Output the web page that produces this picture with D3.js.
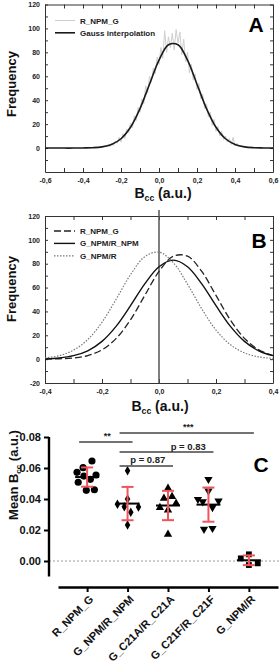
<!DOCTYPE html>
<html>
<head>
<meta charset="utf-8">
<script src="https://cdn.jsdelivr.net/npm/d3@7"></script>
<style>
  body { margin: 0; background: #fff; }
  svg { display: block; font-family: "Liberation Sans", Arial, sans-serif; font-weight: bold; }
</style>
</head>
<body>
<svg id="chart" width="280" height="664"></svg>
<script>
// ---------- panel A : histogram + gauss fit ----------
const histBins = [-0.27,-0.26,-0.25,-0.24,-0.23,-0.22,-0.21,-0.20,-0.19,-0.18,-0.17,-0.16,-0.15,-0.14,-0.13,-0.12,-0.11,-0.10,-0.09,-0.08,
                  -0.07,-0.06,-0.05,-0.04,-0.03,-0.02,-0.01,0.00,0.01,0.02,0.03,0.04,0.05,0.06,0.07,0.08,0.09,0.10,0.11,0.12,
                  0.13,0.14,0.15,0.16,0.17,0.18,0.19,0.20,0.21,0.22,0.23,0.24,0.25,0.26,0.27,0.28,0.29,0.30,0.31,0.32,
                  0.33,0.34,0.35,0.36,0.37,0.38,0.39,0.40,0.41,0.42];
const histCounts = [3,1,4,2,6,4,9,5,12,8,16,13,21,17,27,23,34,30,41,37,
                    52,46,60,55,67,62,76,70,84,75,98,80,93,84,96,82,99,88,97,78,
                    91,72,80,63,70,57,62,49,54,41,45,33,37,26,30,19,24,14,18,10,
                    14,7,10,5,8,3,9,2,4,1];
const fitXA = [-0.6,-0.55,-0.5,-0.45,-0.4,-0.35,-0.3,-0.25,-0.2,-0.15,-0.1,-0.05,0,0.05,0.1,0.15,0.2,0.25,0.3,0.35,0.4,0.45,0.5,0.55,0.6];
const fitA = [0,0,0,0,0.1,0.3,1.0,3.0,7.8,17.4,33.0,53.4,73.5,86.3,86.3,73.5,53.4,33.0,17.4,7.8,3.0,1.0,0.3,0.1,0];
const ticksXA = [-0.6,-0.5,-0.4,-0.3,-0.2,-0.1,0,0.1,0.2,0.3,0.4,0.5,0.6];
const ticksYA = [-10,0,10,20,30,40,50,60,70,80,90,100,110,120];

// ---------- panel B : three gauss fits ----------
const fitXB = [-0.4,-0.35,-0.3,-0.25,-0.2,-0.15,-0.1,-0.05,0,0.05,0.1,0.15,0.2,0.25,0.3,0.35,0.4];
const fitR_NPM_G = [0.1,0.3,1.0,3.0,7.8,17.4,33.0,53.4,73.5,86.3,86.3,73.5,53.4,33.0,17.4,7.8,3.0];
const fitG_NPM_R_NPM = [0.3,1.0,2.9,7.0,14.9,27.7,44.8,63.1,77.5,83.0,77.5,63.1,44.8,27.7,14.9,7.0,2.9];
const fitG_NPM_R = [1.0,2.9,7.5,16.4,30.9,50.4,70.8,85.9,89.7,80.9,62.9,42.2,24.4,12.2,5.2,1.9,0.6];
const ticksXB = [-0.4,-0.3,-0.2,-0.1,0,0.1,0.2,0.3,0.4];
const ticksYB = [-20,-10,0,10,20,30,40,50,60,70,80,90,100,110,120];

// ---------- panel C : mean Bcc per construct ----------
const groups = ["R_NPM_G", "G_NPM/R_NPM", "G_C21A/R_C21A", "G_C21F/R_C21F", "G_NPM/R"];
const valsR_NPM_G = [0.0645,0.0602,0.0572,0.0555,0.0548,0.0527,0.0508,0.0456,0.0460];
const valsG_NPM_R_NPM = [0.0583,0.0400,0.0366,0.0350,0.0348,0.0314,0.0232];
const valsC21A = [0.0469,0.0405,0.0415,0.0372,0.0344,0.0329,0.0172];
const valsC21F = [0.0527,0.0452,0.0398,0.0383,0.0387,0.0346,0.0206,0.0211];
const valsG_NPM_R = [0.0043,0.0017,-0.0015,-0.0026];
// horizontal scatter of the dots, as a fraction of the category step
const jitR_NPM_G = [0.12,-0.1,-0.25,0.22,-0.08,0.08,-0.22,-0.02,0.18];
const jitG_NPM_R_NPM = [0,0,-0.25,-0.08,0.27,0.08,0];
const jitC21A = [0,-0.1,0.1,0.2,-0.2,0,0];
const jitC21F = [0,0,-0.26,-0.14,0.25,0.1,-0.11,0.1];
const jitG_NPM_R = [0,-0.2,0.22,0];
const ticksYC = [0, 0.02, 0.04, 0.06, 0.08];
// [from, to, label, height, label centred between]
const comparisons = [
  ["G_NPM/R_NPM", "G_NPM/R", "***", 0.0826, ["G_NPM/R_NPM", "G_NPM/R"]],
  ["R_NPM_G", "G_NPM/R_NPM", "**", 0.0768, ["R_NPM_G", "G_NPM/R_NPM"]],
  ["G_NPM/R_NPM", "G_C21F/R_C21F", "p = 0.83", 0.0703, ["G_C21A/R_C21A", "G_C21F/R_C21F"]],
  ["G_NPM/R_NPM", "G_C21A/R_C21A", "p = 0.87", 0.0613, ["G_NPM/R_NPM", "G_C21A/R_C21A"]]
];

const svg = d3.select("#chart");
const red = "#f0555a";

function fmtComma(v) {
  let s = Math.abs(v).toFixed(1).replace(".", ",");
  return (v < -1e-9 ? "-" : "") + s;
}

function bccTitle(g, x, y, size) {
  let t = g.append("text").attr("x", x).attr("y", y)
    .attr("text-anchor", "middle").attr("font-size", size).attr("fill", "#111");
  t.append("tspan").text("B");
  t.append("tspan").attr("font-size", size * 0.62).attr("dy", size * 0.22).text("cc");
  t.append("tspan").attr("dy", -size * 0.22).text(" (a.u.)");
  return t;
}

function framed(x, y, xt, yt, yLabelOk) {
  let g = svg.append("g");
  let x0 = x.range()[0], x1 = x.range()[1];
  let y0 = y.range()[0], y1 = y.range()[1];

  g.append("g").attr("transform", "translate(0," + y0 + ")")
    .call(d3.axisBottom(x).tickValues(xt).tickSize(-4).tickSizeOuter(0).tickPadding(6)
      .tickFormat((d, i) => i % 2 === 0 ? fmtComma(d) : ""));
  g.append("g").attr("transform", "translate(0," + y1 + ")")
    .call(d3.axisTop(x).tickValues(xt).tickSize(-4).tickSizeOuter(0).tickFormat(""));
  g.append("g").attr("transform", "translate(" + x0 + ",0)")
    .call(d3.axisLeft(y).tickValues(yt).tickSize(-3).tickSizeOuter(0).tickPadding(5)
      .tickFormat(d => (d % 20 === 0 && yLabelOk(d)) ? d : ""));
  g.append("g").attr("transform", "translate(" + x1 + ",0)")
    .call(d3.axisRight(y).tickValues(yt).tickSize(-3).tickSizeOuter(0).tickFormat(""));

  g.selectAll(".domain").attr("stroke", "#333").attr("stroke-width", 1);
  g.selectAll(".tick line").attr("stroke", "#333");
  g.selectAll(".tick text").attr("font-size", 7).attr("font-weight", "bold")
    .attr("font-family", '"Liberation Sans", Arial, sans-serif').attr("fill", "#222");
  return g;
}

// ================= A =================
const xA = d3.scaleLinear().domain([-0.6, 0.6]).range([45, 273]);
const yA = d3.scaleLinear().domain([-20, 120]).range([172, 4.5]);
framed(xA, yA, ticksXA, ticksYA, d => d >= 0);

const lineA = d3.line().x(d => xA(d[0])).y(d => yA(d[1]));
svg.append("path")
  .datum(histBins.map((b, i) => [b, histCounts[i]]))
  .attr("d", lineA)
  .attr("fill", "none").attr("stroke", "#cfcfcf").attr("stroke-width", 1);
svg.append("path")
  .datum(fitXA.map((b, i) => [b, fitA[i]]))
  .attr("d", lineA.curve(d3.curveCatmullRom))
  .attr("fill", "none").attr("stroke", "#1a1a1a").attr("stroke-width", 1.6);

// legend A
const legA = [["R_NPM_G", "#cfcfcf", 1, null], ["Gauss interpolation", "#1a1a1a", 1.6, null]];
legA.forEach((l, i) => {
  let yy = 20.5 + i * 12.3;
  svg.append("line").attr("x1", 55).attr("x2", 75).attr("y1", yy).attr("y2", yy)
    .attr("stroke", l[1]).attr("stroke-width", l[2]);
  svg.append("text").attr("x", 80).attr("y", yy + 3).attr("font-size", 8).attr("fill", "#222").text(l[0]);
});
svg.append("text").attr("x", 256).attr("y", 32).attr("text-anchor", "middle")
  .attr("font-size", 21).attr("fill", "#000").text("A");
svg.append("text").attr("transform", "translate(16,84) rotate(-90)").attr("text-anchor", "middle")
  .attr("font-size", 13).attr("fill", "#111").text("Frequency");
bccTitle(svg, 163, 198, 14);

// ================= B =================
const xB = d3.scaleLinear().domain([-0.4, 0.4]).range([45, 273]);
const yB = d3.scaleLinear().domain([-20, 120]).range([383, 216]);
framed(xB, yB, ticksXB, ticksYB, d => true);

svg.append("line").attr("x1", xB(0)).attr("x2", xB(0)).attr("y1", 210).attr("y2", yB(-20))
  .attr("stroke", "#555").attr("stroke-width", 1.5);

const lineB = d3.line().x(d => xB(d[0])).y(d => yB(d[1])).curve(d3.curveCatmullRom);
const seriesB = [
  ["R_NPM_G", fitR_NPM_G, "#222", 1.3, "7,3"],
  ["G_NPM/R_NPM", fitG_NPM_R_NPM, "#111", 1.4, null],
  ["G_NPM/R", fitG_NPM_R, "#777", 1.2, "1.5,1.5"]
];
seriesB.forEach((s, i) => {
  svg.append("path")
    .datum(fitXB.map((b, j) => [b, s[1][j]]))
    .attr("d", lineB)
    .attr("fill", "none").attr("stroke", s[2]).attr("stroke-width", s[3])
    .attr("stroke-dasharray", s[4]);
  let yy = 231 + i * 12.4;
  svg.append("line").attr("x1", 54).attr("x2", 75).attr("y1", yy).attr("y2", yy)
    .attr("stroke", s[2]).attr("stroke-width", s[3]).attr("stroke-dasharray", s[4]);
  svg.append("text").attr("x", 80).attr("y", yy + 3).attr("font-size", 8).attr("fill", "#222").text(s[0]);
});
svg.append("text").attr("x", 259).attr("y", 248).attr("text-anchor", "middle")
  .attr("font-size", 21).attr("fill", "#000").text("B");
svg.append("text").attr("transform", "translate(16,289) rotate(-90)").attr("text-anchor", "middle")
  .attr("font-size", 13).attr("fill", "#111").text("Frequency");
bccTitle(svg, 160, 411, 14);

// ================= C =================
const xC = d3.scalePoint().domain(groups).range([58, 278]).padding(0.72);
const yC = d3.scaleLinear().domain([-0.01, 0.08]).range([576.5, 437]);
const step = xC.step();

svg.append("line").attr("x1", 49).attr("x2", 280).attr("y1", yC(0)).attr("y2", yC(0))
  .attr("stroke", "#999").attr("stroke-width", 1).attr("stroke-dasharray", "2,2");

const axY = svg.append("g").attr("transform", "translate(49,0)")
  .call(d3.axisLeft(yC).tickValues(ticksYC).tickSize(5).tickSizeOuter(0).tickPadding(3)
    .tickFormat(d3.format(".2f")));
const axX = svg.append("g").attr("transform", "translate(0,587)")
  .call(d3.axisBottom(xC).tickSize(5).tickSizeOuter(0).tickFormat(""));
[axY, axX].forEach(a => {
  a.selectAll(".domain").attr("stroke", "#000").attr("stroke-width", 2.4);
  a.selectAll(".tick line").attr("stroke", "#000").attr("stroke-width", 2);
  a.selectAll(".tick text").attr("font-size", 11).attr("font-weight", "bold")
    .attr("font-family", '"Liberation Sans", Arial, sans-serif').attr("fill", "#111");
});
axY.select(".domain").attr("d", "M0," + yC(-0.01) + "V" + yC(0.08));

groups.forEach(gname => {
  svg.append("text")
    .attr("transform", "translate(" + (xC(gname) + 7) + ",600) rotate(-45)")
    .attr("text-anchor", "end").attr("font-size", 11).attr("fill", "#111").text(gname);
});

const groupData = [
  [valsR_NPM_G, jitR_NPM_G, d3.symbolCircle, 0, 40],
  [valsG_NPM_R_NPM, jitG_NPM_R_NPM, d3.symbolDiamond, 0, 26],
  [valsC21A, jitC21A, d3.symbolTriangle, 0, 30],
  [valsC21F, jitC21F, d3.symbolTriangle, 180, 30],
  [valsG_NPM_R, jitG_NPM_R, d3.symbolSquare, 0, 34]
];
groupData.forEach((gd, gi) => {
  let cx = xC(groups[gi]);
  let vals = gd[0];
  svg.selectAll(null).data(vals).enter().append("path")
    .attr("d", d3.symbol().type(gd[2]).size(gd[4]))
    .attr("transform", (d, i) => "translate(" + (cx + gd[1][i] * step) + "," + yC(d) + ") rotate(" + gd[3] + ")")
    .attr("fill", "#000");
  let m = d3.mean(vals), sd = d3.deviation(vals);
  svg.append("line").attr("x1", cx - 12).attr("x2", cx + 12).attr("y1", yC(m)).attr("y2", yC(m))
    .attr("stroke", "#000").attr("stroke-width", 2);
  let eb = svg.append("g").attr("stroke", red).attr("stroke-width", 2);
  eb.append("line").attr("x1", cx).attr("x2", cx).attr("y1", yC(m + sd)).attr("y2", yC(m - sd));
  eb.append("line").attr("x1", cx - 6).attr("x2", cx + 6).attr("y1", yC(m + sd)).attr("y2", yC(m + sd));
  eb.append("line").attr("x1", cx - 6).attr("x2", cx + 6).attr("y1", yC(m - sd)).attr("y2", yC(m - sd));
});

comparisons.forEach(c => {
  let xa = xC(c[0]) - 8, xb = xC(c[1]) + 5;
  svg.append("line").attr("x1", xa).attr("x2", xb).attr("y1", yC(c[3])).attr("y2", yC(c[3]))
    .attr("stroke", "#444").attr("stroke-width", 1.4);
  let tx = (xC(c[4][0]) + xC(c[4][1])) / 2;
  svg.append("text").attr("x", tx).attr("y", yC(c[3]) - 2.5).attr("text-anchor", "middle")
    .attr("font-size", c[2].startsWith("p") ? 9.5 : 9).attr("fill", "#222").text(c[2]);
});

svg.append("text").attr("transform", "translate(18,475) rotate(-90)").attr("text-anchor", "middle")
  .attr("font-size", 13).attr("fill", "#111")
  .call(t => {
    t.append("tspan").text("Mean B");
    t.append("tspan").attr("font-size", 8).attr("dy", 3).text("cc");
    t.append("tspan").attr("dy", -3).text(" (a.u.)");
  });
svg.append("text").attr("x", 261).attr("y", 472).attr("text-anchor", "middle")
  .attr("font-size", 21).attr("fill", "#000").text("C");
</script>
</body>
</html>
